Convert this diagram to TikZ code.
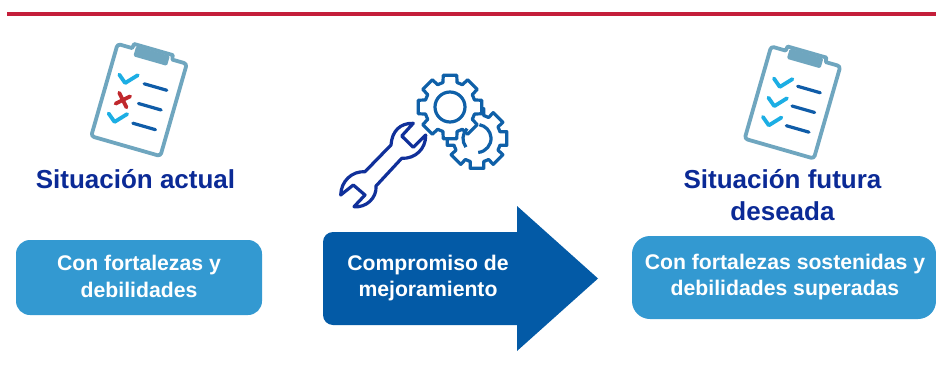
\documentclass[tikz,border=0pt]{standalone}
\usepackage{fontspec}
\setmainfont{Liberation Sans}
\usetikzlibrary{calc}
\definecolor{redline}{HTML}{C41E3A}
\definecolor{boardc}{HTML}{6FA6BF}
\definecolor{checkc}{HTML}{1CAEE4}
\definecolor{listc}{HTML}{0F5CA8}
\definecolor{crossc}{HTML}{C0282D}
\definecolor{gearc}{HTML}{0F60A8}
\definecolor{wrenchc}{HTML}{10309A}
\definecolor{titlec}{HTML}{0B2A96}
\definecolor{boxc}{HTML}{3399D1}
\definecolor{arrowc}{HTML}{035AA6}
% board at the current origin, marks are added outside
\newcommand{\clipboard}{%
  \draw[board] (-36,0) [rounded corners=3pt] -- (-36,-48) [sharp corners] -- (-21,-48) -- (-20,-52.5) -- (20,-52.5) -- (21,-48)
    [rounded corners=3pt] -- (36,-48) -- (36,48) -- (-36,48) -- cycle;
  \fill[boardc,rounded corners=1.5pt] (-17.5,-51) rectangle (17.5,-40.5);
  \foreach \v in {-17,3.5,24}
    \draw[listline] (0.5,\v) -- (24,\v);
}
\newcommand{\tick}[2]{\draw[tickline] (#1-8,#2-6.5) -- (#1,#2) -- (#1+10,#2-11);}
\begin{document}
\begin{tikzpicture}[x=1pt,y=-1pt]
  \tikzstyle{board}=[draw=boardc,line width=3.8pt,line join=round,fill=white]
  \tikzstyle{listline}=[draw=listc,line width=3.2pt,line cap=round]
  \tikzstyle{tickline}=[draw=checkc,line width=3.8pt,line cap=round,line join=round]
  \tikzstyle{gearstroke}=[draw=gearc,line width=3.2pt,line join=round]
  \tikzstyle{title}=[text=titlec,font=\fontsize{26}{31.5}\selectfont\bfseries,align=center]
  \tikzstyle{label}=[text=white,font=\fontsize{21.2}{26.5}\selectfont\bfseries,align=center]
  \tikzstyle{softbox}=[fill=boxc,rounded corners=14pt,inner sep=0pt]
  \useasboundingbox (0,0) rectangle (936,372);
  \fill[white] (0,0) rectangle (936,372);
  \coordinate (ruleL) at (7,14);
  \coordinate (ruleR) at (936,14);
  \draw[redline,line width=3.4pt] (ruleL) -- (ruleR);

  % left board
  \begin{scope}[shift={(139,100)},rotate=-16]
    \clipboard
    \tick{-18}{-12.5}
    \draw[crossc,line width=3.8pt,line cap=round] (-21,-1.5) -- (-10,10.5) (-9.5,-1) -- (-21.5,10);
    \tick{-17.5}{27.8}
  \end{scope}
  % right board
  \begin{scope}[shift={(792.5,102.5)},rotate=-16]
    \clipboard
    \tick{-16.5}{-11.5}
    \tick{-16.5}{8.5}
    \tick{-16.5}{28.5}
  \end{scope}

  % gears
  \coordinate (small) at (477,138.5);
  \coordinate (big) at (450,107);
  \draw[gearstroke,fill=white] ($(small)+(-16:24)$) \foreach \a in {0,45,...,315}{
    -- ($(small)+(\a-16:24)$) -- ($(small)+(\a-13:30.5)$) -- ($(small)+(\a+13:30.5)$) -- ($(small)+(\a+16:24)$)} -- cycle;
  \draw[gearstroke,fill=white] ($(big)+(-16:25.5)$) \foreach \a in {0,45,...,315}{
    -- ($(big)+(\a-16:25.5)$) -- ($(big)+(\a-12:32.5)$) -- ($(big)+(\a+12:32.5)$) -- ($(big)+(\a+16:25.5)$)} -- cycle;
  \draw[gearstroke] (big) circle (15);
  \draw[gearstroke] ($(small)+(85:14)$) arc[start angle=85,end angle=-80,radius=14];
  \draw[gearstroke] ($(small)+(-135:14)$) arc[start angle=-135,end angle=-218,radius=14];

  % wrench
  \draw[draw=wrenchc,line width=3.2pt,line join=round]
    (413.3,123.3) .. controls (400,123) and (392,131) .. (391,145)
    -- (365,171.7) .. controls (352,171) and (341,181) .. (340.7,195)
    -- (353.3,185) -- (365,195) -- (354,206.7)
    .. controls (366,208) and (377,198) .. (376,186)
    -- (401.7,158.3) .. controls (415,159) and (426,149) .. (425.7,135)
    -- (413.3,147.3) -- (401.7,136) -- cycle;

  % arrow
  \fill[arrowc] (333,232) -- (517,232) -- (517,206) -- (598,278.5) -- (517,351) -- (517,325)
    -- (333,325) arc[start angle=90,end angle=180,radius=10] -- (323,242)
    arc[start angle=180,end angle=270,radius=10] -- cycle;
  \node[label] (compromiso) at (428,278) {Compromiso de\\mejoramiento};

  % titles and boxes
  \node[softbox,minimum width=246pt,minimum height=75pt,fill=boxc] (fortalezas) at (139,277.5) {};
  \node[label] (fortalezasT) at (fortalezas.center) [yshift=1pt] {Con fortalezas y\\debilidades};
  \node[softbox,minimum width=304pt,minimum height=83pt,fill=boxc,rounded corners=18pt] (superadas) at (784,277.5) {};
  \node[label] (superadasT) at (785,277) {Con fortalezas sostenidas y\\debilidades superadas};
  \node[title] (actual) at (135.5,179) {Situación actual};
  \node[title] (futura) at (782.5,195) {Situación futura\\deseada};
\end{tikzpicture}
\end{document}
